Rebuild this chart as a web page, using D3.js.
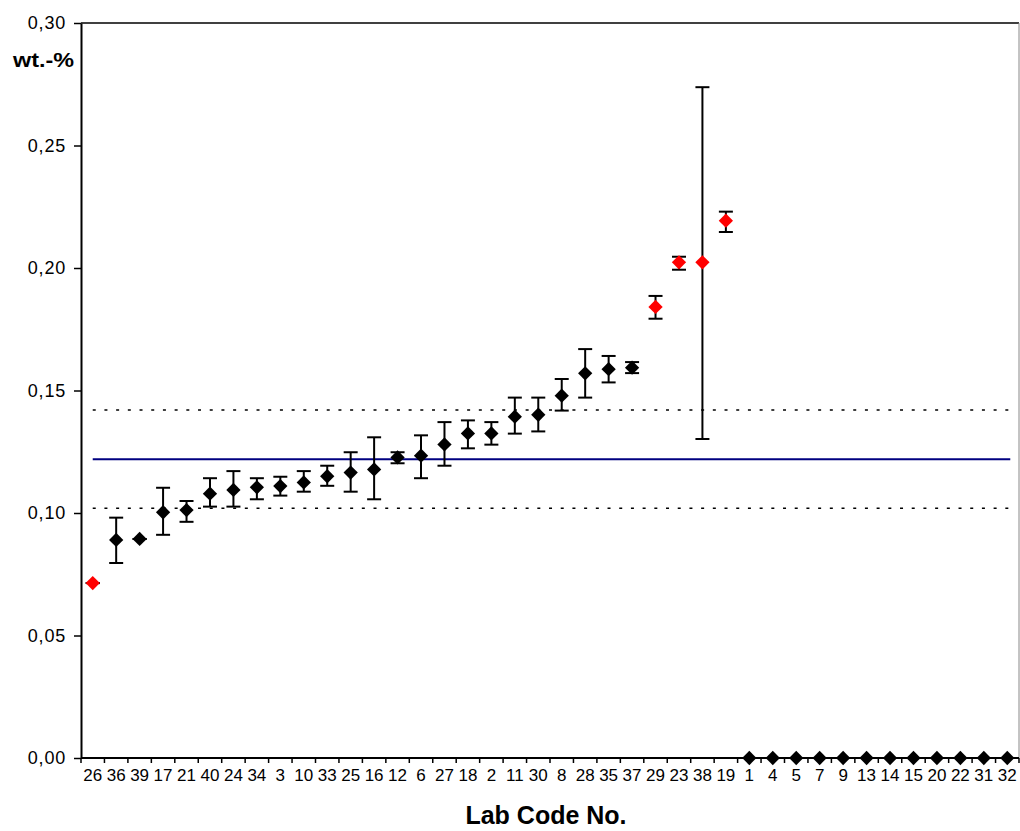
<!DOCTYPE html>
<html>
<head>
<meta charset="utf-8">
<script src="https://cdn.jsdelivr.net/npm/d3@7"></script>
<style>
  body { margin: 0; background: #fff; }
  svg { display: block; font-family: "Liberation Sans", Arial, sans-serif; }
</style>
</head>
<body>
<svg></svg>
<script>
// lab codes, in the order they appear on the x axis
var labs = ["26","36","39","17","21","40","24","34","3","10","33","25","16","12","6","27","18","2",
            "11","30","8","28","35","37","29","23","38","19","1","4","5","7","9","13","14","15","20","22","31","32"];

// mean values (wt.-%)
var values = [0.0714,0.0890,0.0894,0.1003,0.1012,0.1079,0.1094,0.1105,0.1110,0.1125,0.1150,0.1165,0.1178,0.1227,
              0.1234,0.1280,0.1325,0.1325,0.1393,0.1401,0.1479,0.1570,0.1587,0.1593,0.1841,0.2023,0.2023,0.2193,
              0,0,0,0,0,0,0,0,0,0,0,0];

// error bar ends (null = no bar)
var lower = [0.0714,0.0796,0.0894,0.0911,0.0964,0.1026,0.1026,0.1056,0.1071,0.1087,0.1111,0.1087,0.1056,0.1203,
             0.1142,0.1193,0.1264,0.1279,0.1324,0.1333,0.1418,0.1471,0.1533,0.1571,0.1793,0.1993,0.1302,0.2147,
             null,null,null,null,null,null,null,null,null,null,null,null];
var upper = [0.0714,0.0981,0.0894,0.1103,0.1049,0.1142,0.1171,0.1142,0.1148,0.1171,0.1193,0.1248,0.1309,0.1248,
             0.1317,0.1371,0.1378,0.1371,0.1471,0.1471,0.1547,0.1669,0.1641,0.1616,0.1886,0.2046,0.2738,0.2230,
             null,null,null,null,null,null,null,null,null,null,null,null];

// labs flagged in red
var outliers = ["26","29","23","38","19"];

// assigned value and tolerance limits
var meanValue = 0.1219;
var limits = [0.1420, 0.1019];

var yTicks = [0, 0.05, 0.10, 0.15, 0.20, 0.25, 0.30];

var svgWidth = 1020, svgHeight = 831;
var plotLeft = 81, plotRight = 1019, plotTop = 23, plotBottom = 758;

var svg = d3.select("svg").attr("width", svgWidth).attr("height", svgHeight);

var x = d3.scaleBand().domain(labs).range([plotLeft, plotRight]).padding(0);
var y = d3.scaleLinear().domain([0, 0.30]).range([plotBottom, plotTop]);

var comma = d3.formatLocale({decimal: ",", thousands: ".", grouping: [3], currency: ["", ""]}).format(".2f");

var data = labs.map(function(l, i) {
  return {lab: l, v: values[i], lo: lower[i], hi: upper[i], red: outliers.indexOf(l) >= 0};
});

// plot frame: top and right
svg.append("line").attr("x1", plotLeft).attr("x2", plotRight).attr("y1", plotTop).attr("y2", plotTop)
   .attr("stroke", "#000").attr("stroke-width", 1.5);
svg.append("line").attr("x1", plotRight).attr("x2", plotRight).attr("y1", plotTop).attr("y2", plotBottom)
   .attr("stroke", "#888").attr("stroke-width", 1);

// y axis
var yAxis = svg.append("g").attr("transform", "translate(" + plotLeft + ",0)")
  .call(d3.axisLeft(y).tickValues(yTicks).tickFormat(comma).tickSize(7).tickSizeOuter(0).tickPadding(8));
yAxis.select(".domain").attr("stroke", "#000").attr("stroke-width", 2);
yAxis.selectAll(".tick line").attr("stroke", "#000").attr("stroke-width", 1.5);
yAxis.selectAll("text").attr("font-size", 18).attr("fill", "#000").attr("letter-spacing", 0.8)
  .attr("font-family", "Liberation Sans, Arial, sans-serif");

// x axis line and ticks at category boundaries
svg.append("line").attr("x1", plotLeft).attr("x2", plotRight).attr("y1", plotBottom).attr("y2", plotBottom)
   .attr("stroke", "#000").attr("stroke-width", 2);
var bounds = labs.map(function(l) { return x(l); }).concat([plotRight]);
svg.append("g").selectAll("line").data(bounds).enter().append("line")
   .attr("x1", function(d) { return d; }).attr("x2", function(d) { return d; })
   .attr("y1", plotBottom).attr("y2", plotBottom + 5)
   .attr("stroke", "#000").attr("stroke-width", 1.5);
svg.append("g").selectAll("text").data(labs).enter().append("text")
   .attr("x", function(d) { return x(d) + x.bandwidth() / 2; })
   .attr("y", 781)
   .attr("text-anchor", "middle")
   .attr("font-size", 17)
   .text(function(d) { return d; });

// reference lines
var lineX1 = x(labs[0]) + x.bandwidth() / 2;
var lineX2 = x(labs[labs.length - 1]) + x.bandwidth() / 2 + 3;
svg.selectAll(".limit").data(limits).enter().append("line").attr("class", "limit")
   .attr("x1", lineX1).attr("x2", lineX2)
   .attr("y1", function(d) { return y(d); }).attr("y2", function(d) { return y(d); })
   .attr("stroke", "#000").attr("stroke-width", 1.5).attr("stroke-dasharray", "3,8.7");
svg.append("line")
   .attr("x1", lineX1).attr("x2", lineX2).attr("y1", y(meanValue)).attr("y2", y(meanValue))
   .attr("stroke", "#000080").attr("stroke-width", 2);

// error bars
var withBars = data.filter(function(d) { return d.lo !== null; });
var bars = svg.append("g").selectAll("g").data(withBars).enter().append("g")
   .attr("stroke", "#000").attr("stroke-width", 2);
bars.append("line")
   .attr("x1", function(d) { return x(d.lab) + x.bandwidth() / 2; })
   .attr("x2", function(d) { return x(d.lab) + x.bandwidth() / 2; })
   .attr("y1", function(d) { return y(d.lo); }).attr("y2", function(d) { return y(d.hi); });
["lo", "hi"].forEach(function(k) {
  bars.append("line")
     .attr("x1", function(d) { return x(d.lab) + x.bandwidth() / 2 - 7; })
     .attr("x2", function(d) { return x(d.lab) + x.bandwidth() / 2 + 7; })
     .attr("y1", function(d) { return y(d[k]); }).attr("y2", function(d) { return y(d[k]); });
});

// diamond markers
var diamond = d3.symbol().type(d3.symbolSquare).size(102);
svg.append("g").selectAll("path").data(data).enter().append("path")
   .attr("d", diamond)
   .attr("transform", function(d) {
     return "translate(" + (x(d.lab) + x.bandwidth() / 2) + "," + y(d.v) + ") rotate(45)";
   })
   .attr("fill", function(d) { return d.red ? "#ff0000" : "#000"; });

// axis titles
svg.append("text").attr("x", 74).attr("y", 67).attr("text-anchor", "end")
   .attr("font-size", 20).attr("font-weight", "bold")
   .attr("textLength", 61).attr("lengthAdjust", "spacingAndGlyphs")
   .text("wt.-%");
svg.append("text").attr("x", 546).attr("y", 824).attr("text-anchor", "middle")
   .attr("font-size", 25).attr("font-weight", "bold")
   .text("Lab Code No.");
</script>
</body>
</html>
